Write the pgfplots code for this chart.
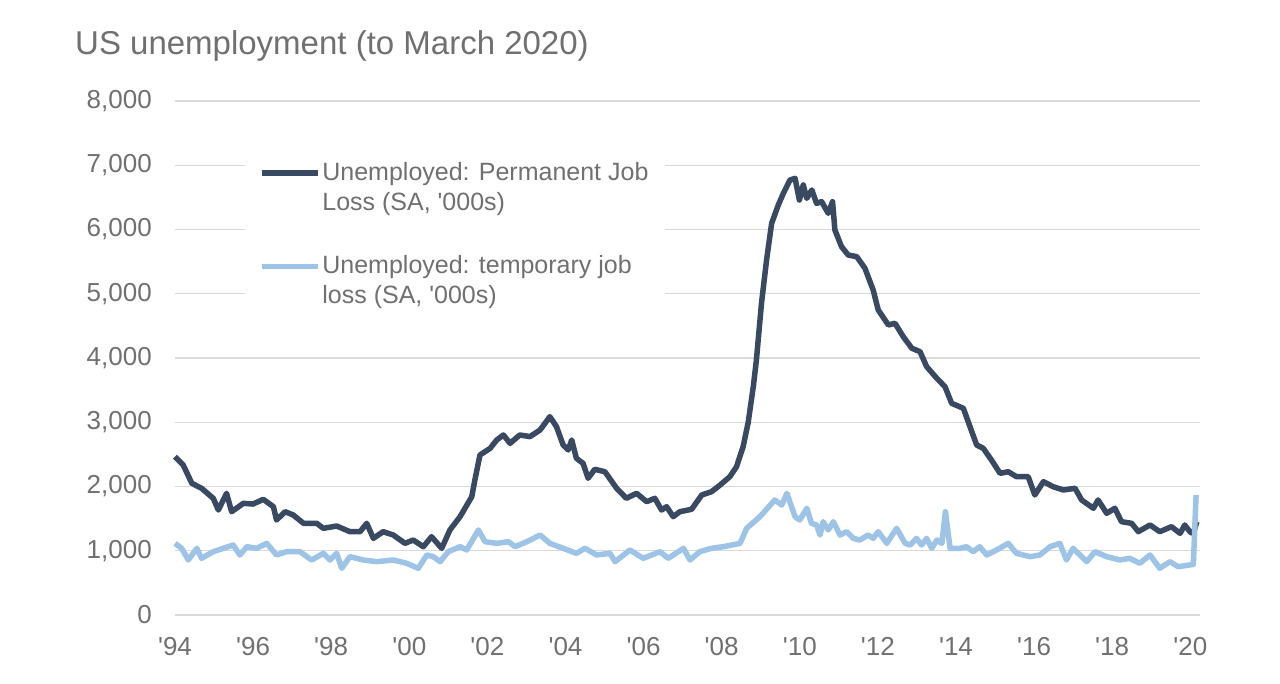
\documentclass[border=0pt]{standalone}
\usepackage{fontspec}
\setmainfont{Liberation Sans}
\usepackage{pgfplots}
\pgfplotsset{compat=1.18}
\usepackage{pgfplotstable}

\definecolor{txt}{RGB}{112,112,112}
\definecolor{gridc}{RGB}{217,217,217}
\definecolor{permc}{RGB}{56,73,97}
\definecolor{tempc}{RGB}{157,195,230}

% year  value ('000s)
\pgfplotstableread{
yr      v
1994.00 2464
1994.21 2335
1994.43 2050
1994.68 1972
1994.98 1816
1995.11 1634
1995.32 1894
1995.45 1608
1995.75 1738
1996.00 1727
1996.26 1800
1996.52 1686
1996.60 1479
1996.82 1608
1997.03 1556
1997.29 1427
1997.63 1427
1997.80 1349
1998.14 1385
1998.48 1297
1998.74 1297
1998.91 1427
1999.08 1193
1999.33 1297
1999.59 1245
1999.89 1115
2000.10 1167
2000.36 1063
2000.57 1219
2000.83 1038
2001.04 1323
2001.30 1530
2001.60 1841
2001.68 2101
2001.81 2490
2002.07 2594
2002.24 2724
2002.41 2802
2002.58 2672
2002.83 2802
2003.09 2776
2003.35 2880
2003.60 3087
2003.77 2931
2003.94 2646
2004.07 2568
2004.16 2724
2004.28 2439
2004.45 2361
2004.58 2128
2004.75 2268
2005.01 2230
2005.31 1972
2005.56 1816
2005.82 1894
2006.08 1764
2006.29 1816
2006.46 1634
2006.59 1686
2006.76 1530
2006.93 1608
2007.23 1645
2007.49 1868
2007.74 1919
2007.96 2023
2008.21 2153
2008.38 2308
2008.55 2620
2008.68 3000
2008.81 3553
2008.89 3969
2009.02 4851
2009.15 5525
2009.28 6096
2009.45 6381
2009.58 6563
2009.75 6770
2009.88 6797
2009.99 6459
2010.09 6693
2010.18 6485
2010.31 6615
2010.43 6407
2010.56 6433
2010.73 6252
2010.84 6433
2010.90 5992
2011.07 5733
2011.24 5603
2011.46 5577
2011.67 5396
2011.88 5058
2012.01 4747
2012.27 4514
2012.44 4540
2012.65 4332
2012.87 4151
2013.08 4099
2013.25 3865
2013.51 3684
2013.72 3553
2013.89 3295
2014.19 3217
2014.36 2931
2014.53 2646
2014.70 2594
2014.91 2412
2015.13 2205
2015.34 2230
2015.55 2153
2015.85 2153
2016.02 1868
2016.24 2075
2016.49 1997
2016.75 1946
2017.05 1972
2017.22 1790
2017.52 1661
2017.64 1790
2017.86 1583
2018.07 1661
2018.24 1452
2018.50 1427
2018.67 1297
2018.97 1401
2019.22 1297
2019.52 1375
2019.74 1271
2019.86 1401
2020.00 1290
2020.08 1271
2020.17 1452
}\permanent

\pgfplotstableread{
yr      v
1994.00 1115
1994.17 1038
1994.34 856
1994.56 1038
1994.68 882
1994.98 986
1995.24 1038
1995.49 1089
1995.66 934
1995.84 1063
1996.09 1038
1996.35 1115
1996.60 934
1996.86 986
1997.20 986
1997.50 856
1997.80 960
1997.97 856
1998.14 960
1998.27 727
1998.48 908
1998.82 856
1999.17 830
1999.59 856
1999.93 805
2000.23 727
2000.45 934
2000.61 908
2000.79 830
2001.00 986
2001.30 1063
2001.47 1012
2001.77 1323
2001.94 1141
2002.24 1115
2002.54 1141
2002.71 1063
2003.01 1141
2003.35 1245
2003.60 1115
2003.94 1038
2004.28 960
2004.50 1038
2004.80 934
2005.14 960
2005.27 830
2005.65 1012
2005.99 882
2006.42 986
2006.63 882
2007.02 1038
2007.19 856
2007.44 986
2007.74 1038
2008.04 1063
2008.47 1115
2008.64 1349
2008.98 1530
2009.36 1790
2009.54 1712
2009.67 1894
2009.88 1530
2010.00 1479
2010.18 1661
2010.30 1427
2010.43 1401
2010.52 1245
2010.60 1452
2010.73 1323
2010.86 1452
2011.03 1245
2011.20 1297
2011.37 1193
2011.54 1167
2011.75 1245
2011.88 1193
2012.01 1297
2012.23 1115
2012.48 1349
2012.70 1115
2012.83 1089
2012.99 1193
2013.12 1089
2013.25 1193
2013.38 1038
2013.51 1167
2013.64 1115
2013.73 1608
2013.85 1038
2014.10 1038
2014.27 1063
2014.44 986
2014.61 1063
2014.79 934
2015.04 1012
2015.34 1115
2015.55 960
2015.90 908
2016.15 934
2016.41 1063
2016.66 1115
2016.83 856
2017.00 1038
2017.35 830
2017.56 986
2017.86 908
2018.20 856
2018.45 882
2018.71 805
2018.97 934
2019.22 727
2019.48 830
2019.69 752
2020.00 780
2020.08 790
2020.15 1868
}\temporary

\begin{document}
\begin{tikzpicture}
\fill[white] (0pt,0pt) rectangle (1280pt,683pt);
\path[use as bounding box] (0pt,0pt) rectangle (1280pt,683pt);

\node[anchor=base west, inner sep=0pt, text=txt,
      font=\fontsize{33}{38}\selectfont] at (75pt,628pt)
      {US unemployment (to March 2020)};

\begin{axis}[
    at={(175pt,68pt)}, anchor=south west,
    scale only axis,
    width=1025pt, height=514pt,
    xmin=1994, xmax=2020.25,
    ymin=0, ymax=8000,
    clip=false,
    axis line style={draw=none},
    major tick length=0pt,
    tick style={draw=none},
    ymajorgrids,
    major grid style={draw=gridc, line width=1.3pt},
    xtick={1994,1996,...,2020},
    xticklabels={\textquotesingle94,\textquotesingle96,\textquotesingle98,
        \textquotesingle00,\textquotesingle02,\textquotesingle04,
        \textquotesingle06,\textquotesingle08,\textquotesingle10,
        \textquotesingle12,\textquotesingle14,\textquotesingle16,
        \textquotesingle18,\textquotesingle20},
    ytick={0,1000,...,8000},
    scaled y ticks=false,
    /pgf/number format/assume math mode=true,
    yticklabel style={/pgf/number format/1000 sep={,},
        anchor=east, inner sep=0pt, xshift=-23pt,
        font=\fontsize{26}{30}\selectfont, text=txt},
    xticklabel style={anchor=north, inner sep=0pt, yshift=-22pt,
        font=\fontsize{26}{30}\selectfont, text=txt},
    legend style={at={(0.068,0.897)}, anchor=north west,
        draw=none, fill=white, inner xsep=14pt, inner ysep=6pt,
        font=\fontsize{25}{30}\selectfont, text=txt,
        row sep=40pt, cells={align=left}},
    legend cell align=left,
    legend image code/.code={\draw[#1] (0pt,14pt) -- (56pt,14pt);},
]
\addplot[permc, line width=5.5pt, line join=round] table[x=yr, y=v] {\permanent};
\addlegendentry{Unemployed: Permanent Job\\Loss (SA, \textquotesingle000s)}
\addplot[tempc, line width=5.5pt, line join=round] table[x=yr, y=v] {\temporary};
\addlegendentry{Unemployed: temporary job\\loss (SA, \textquotesingle000s)}
\end{axis}
\end{tikzpicture}
\end{document}
